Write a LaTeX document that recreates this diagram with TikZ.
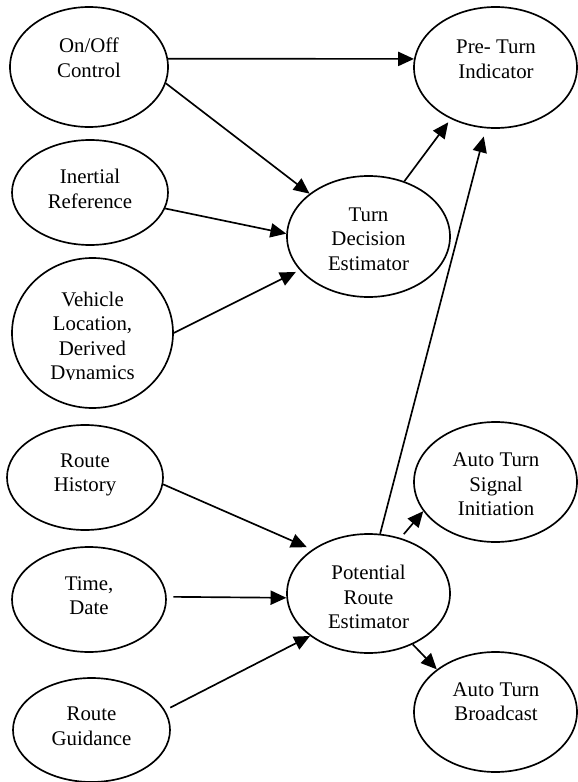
\documentclass[tikz,border=0pt]{standalone}
\usepackage{fontspec}
\setmainfont{Liberation Serif}
\usetikzlibrary{shapes.geometric,arrows.meta}

\tikzset{
  oval/.style 2 args={draw, ellipse, line width=1pt, inner sep=0pt,
    minimum width=#1*0.6pt, minimum height=#2*0.6pt},
  txt/.style={align=center, inner sep=0pt, font=\fontsize{12.5}{14.7}\selectfont},
  flow/.style={-{Triangle[length=9.5pt,width=8.5pt]}, line width=1pt},
}

\begin{document}
\begin{tikzpicture}[x=0.6pt,y=-0.6pt]
\useasboundingbox (0,0) rectangle (577,782);
% left column
\node[oval={158}{120}] (onoff) at (89,67) {};
\node[oval={156}{105}] (inertial) at (90,192.5) {};
\node[oval={161}{150}] (vehicle) at (92.5,333) {};
\node[oval={156}{105}] (history) at (85,477.5) {};
\node[oval={154}{105}] (timedate) at (89,599.5) {};
\node[oval={157}{104}] (guidance) at (91.5,730) {};
% middle column
\node[oval={163}{121}] (tde) at (368.5,236.5) {};
\node[oval={163}{119}] (pre) at (368.5,593.5) {};
% right column
\node[oval={163}{121}] (preturn) at (495.5,67.5) {};
\node[oval={163}{120}] (signal) at (495.5,482) {};
\node[oval={163}{120}] (broadcast) at (495.5,712) {};

\node[txt] (onofft) at (89,58) {On/Off\\Control};
\node[txt] (inertialt) at (90,189) {Inertial\\Reference};
\begin{scope}
\clip (0,250) rectangle (200,379);
\node[txt] (vehiclet) at (92.5,338) {Vehicle\\Location,\\Derived\\Dynamics};
\end{scope}
\node[txt] (historyt) at (85,475) {Route\\History};
\node[txt] (timedatet) at (89,595.5) {Time,\\Date};
\node[txt] (guidancet) at (91.5,726.5) {Route\\Guidance};
\node[txt] (tdet) at (368.5,239) {Turn\\Decision\\Estimator};
\node[txt] (pret) at (368.5,597) {Potential\\Route\\Estimator};
\node[txt] (preturnt) at (496,59.5) {Pre- Turn\\Indicator};
\node[txt] (signalt) at (496,484.5) {Auto Turn\\Signal\\Initiation};
\node[txt] (broadcastt) at (496,701.5) {Auto Turn\\Broadcast};

\draw[flow] (onoff.6) -- (preturn.174);
\draw[flow] (onoff.-12) -- (tde.144);
\draw[flow] (inertial.-12) -- (tde.178);
\draw[flow, shorten >=2.5pt] (vehicle.0) -- (tde.206);
\draw[flow, shorten >=2.5pt] (tde.57) -- (preturn.229);
\draw[flow, shorten >=5pt] (pre.79) -- (preturn.261);
\draw[flow, shorten >=3.5pt] (history.-5) -- (pre.142);
\draw[flow, shorten <=4pt] (timedate.2) -- (pre.183);
\draw[flow, shorten <=3.5pt] (guidance.15) -- (pre.216);
\draw[flow, shorten <=3pt] (pre.60) -- (signal.202);
\draw[flow] (pre.-49) -- (broadcast.144);
\end{tikzpicture}
\end{document}
